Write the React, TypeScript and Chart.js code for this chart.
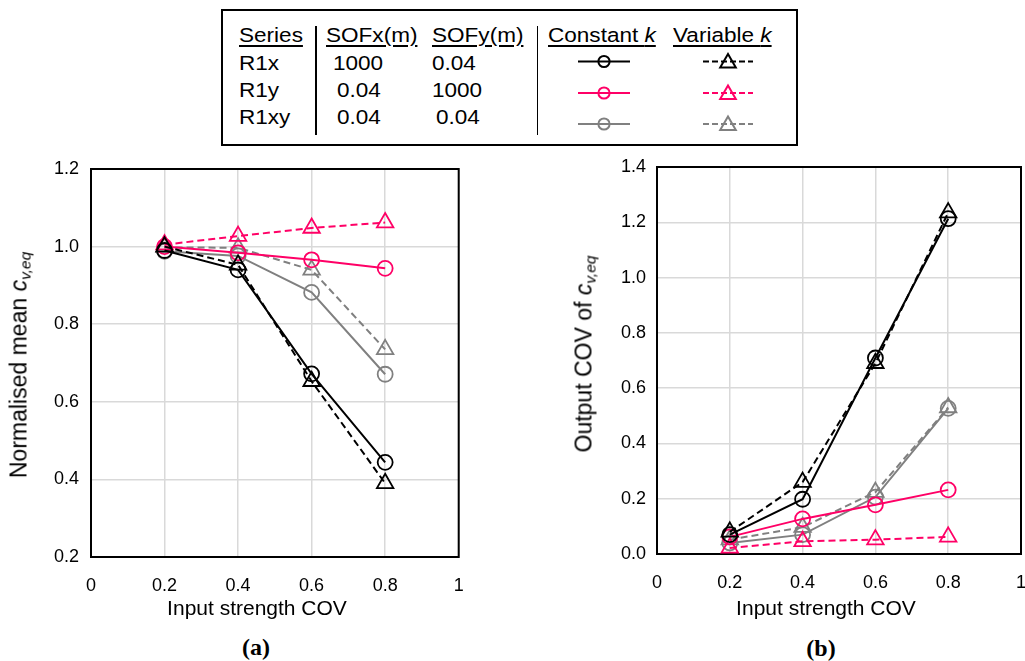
import React, { useEffect, useRef } from "react";
import { Chart, registerables } from "chart.js";

Chart.register(...registerables);

// Input strength COV (x values shared by every series)
const cov = [0.2, 0.4, 0.6, 0.8];

// Series table
const seriesNames = ["R1x", "R1y", "R1xy"];
const sofX = ["1000", "0.04", "0.04"];
const sofY = ["0.04", "1000", "0.04"];
const seriesColors = ["#000000", "#ff0066", "#808080"];

// (a) Normalised mean c_v,eq
const meanR1xConst = [0.99, 0.94, 0.672, 0.444];
const meanR1xVar = [1.0, 0.953, 0.653, 0.39];
const meanR1yConst = [1.0, 0.984, 0.966, 0.944];
const meanR1yVar = [1.005, 1.027, 1.048, 1.062];
const meanR1xyConst = [0.988, 0.976, 0.882, 0.671];
const meanR1xyVar = [0.998, 0.997, 0.94, 0.735];

// (b) Output COV of c_v,eq
const covR1xConst = [0.07, 0.198, 0.709, 1.213];
const covR1xVar = [0.08, 0.26, 0.69, 1.235];
const covR1yConst = [0.062, 0.127, 0.178, 0.232];
const covR1yVar = [0.022, 0.046, 0.052, 0.062];
const covR1xyConst = [0.04, 0.07, 0.206, 0.527];
const covR1xyVar = [0.052, 0.097, 0.224, 0.53];

// Axis tick ranges
const xTicks = [0, 1, 0.2];
const meanTicks = [0.2, 1.2, 0.2];
const covTicks = [0, 1.4, 0.2];

const FONT = 'Arial, "Liberation Sans", sans-serif';
const GRID = "#d9d9d9";

function buildDatasets(constSets: number[][], varSets: number[][]) {
  const out: any[] = [];
  for (let i = 0; i < seriesNames.length; i++) {
    const color = seriesColors[i];
    out.push({
      label: seriesNames[i] + " constant k",
      data: cov.map((x, j) => ({ x, y: constSets[i][j] })),
      borderColor: color,
      borderWidth: 2,
      pointStyle: "circle",
      pointRadius: 7.5,
      pointHoverRadius: 7.5,
      pointBorderWidth: 1.8,
      pointBorderColor: color,
      pointBackgroundColor: "rgba(0,0,0,0)",
      fill: false,
      tension: 0,
    });
    out.push({
      label: seriesNames[i] + " variable k",
      data: cov.map((x, j) => ({ x, y: varSets[i][j] })),
      borderColor: color,
      borderWidth: 2,
      borderDash: [7, 4],
      pointStyle: "triangle",
      pointRadius: 9.5,
      pointHoverRadius: 9.5,
      pointBorderWidth: 1.8,
      pointBorderColor: color,
      pointBackgroundColor: "rgba(0,0,0,0)",
      fill: false,
      tension: 0,
    });
  }
  return out;
}

// Black frame around the plot area, drawn over the grid and under the lines
const framePlugin = {
  id: "plotFrame",
  beforeDatasetsDraw(chart: any) {
    const { left, top, right, bottom } = chart.chartArea;
    const ctx = chart.ctx;
    ctx.save();
    ctx.strokeStyle = "#000";
    ctx.lineWidth = 2;
    ctx.strokeRect(left, top, right - left, bottom - top);
    ctx.restore();
  },
};

function makeConfig(
  datasets: any[],
  yRange: number[],
  yAxisWidth: number,
  xAxisHeight: number,
  padTop: number,
  padRight: number,
  yTickPad: number
) {
  return {
    type: "line",
    data: { datasets },
    plugins: [framePlugin],
    options: {
      animation: false,
      responsive: false,
      maintainAspectRatio: false,
      devicePixelRatio: 1,
      layout: { padding: { top: padTop, right: padRight, left: 0, bottom: 0 } },
      plugins: { legend: { display: false }, tooltip: { enabled: false } },
      events: [],
      scales: {
        x: {
          type: "linear",
          min: xTicks[0],
          max: xTicks[1],
          border: { display: false },
          grid: { color: GRID, lineWidth: 1.5, drawTicks: false },
          ticks: {
            stepSize: xTicks[2],
            padding: 18,
            color: "#000",
            font: { family: FONT, size: 18 },
            maxRotation: 0,
            autoSkip: false,
            callback: (v: number) =>
              Math.abs(v) < 1e-9 ? "0" : Math.abs(v - 1) < 1e-9 ? "1" : Number(v).toFixed(1),
          },
          afterFit: (s: any) => {
            s.height = xAxisHeight;
            s.paddingLeft = 0;
            s.paddingRight = 0;
          },
        },
        y: {
          type: "linear",
          min: yRange[0],
          max: yRange[1],
          border: { display: false },
          grid: { color: GRID, lineWidth: 1.5, drawTicks: false },
          ticks: {
            stepSize: yRange[2],
            padding: yTickPad,
            color: "#000",
            font: { family: FONT, size: 18 },
            autoSkip: false,
            callback: (v: number) => Number(v).toFixed(1),
          },
          afterFit: (s: any) => {
            s.width = yAxisWidth;
            s.paddingTop = 0;
            s.paddingBottom = 0;
          },
        },
      },
    },
  } as any;
}

const LEGEND_SIZE = 20.5;

function LegendText(props: { x: number; baseline: number; underline?: boolean; children: any }) {
  return (
    <div
      style={{
        position: "absolute",
        left: props.x,
        top: props.baseline - LEGEND_SIZE * 0.8465,
        fontSize: LEGEND_SIZE,
        lineHeight: LEGEND_SIZE + "px",
        whiteSpace: "nowrap",
        transform: "scaleX(1.1)",
        transformOrigin: "0 0",
        color: "#000",
        textDecoration: props.underline ? "underline" : "none",
        textDecorationThickness: "1.6px",
        textUnderlineOffset: "3px",
      }}
    >
      {props.children}
    </div>
  );
}

function YTitle(props: { cx: number; cy: number; text: string }) {
  return (
    <div
      style={{
        position: "absolute",
        left: props.cx,
        top: props.cy,
        transform: "translate(-50%, -50%) rotate(-90deg)",
        fontSize: 23,
        lineHeight: "26px",
        whiteSpace: "nowrap",
        color: "#000",
      }}
    >
      {props.text}
      <i>c</i>
      <sub style={{ fontStyle: "italic", fontSize: 15.5, verticalAlign: "-4px" }}>v,eq</sub>
    </div>
  );
}

function CenterText(props: { cx: number; cy: number; style?: any; children: any }) {
  return (
    <div
      style={{
        position: "absolute",
        left: props.cx,
        top: props.cy,
        transform: "translate(-50%, -50%)",
        whiteSpace: "nowrap",
        color: "#000",
        ...props.style,
      }}
    >
      {props.children}
    </div>
  );
}

export default function App() {
  const leftRef = useRef<HTMLCanvasElement>(null);
  const rightRef = useRef<HTMLCanvasElement>(null);

  useEffect(() => {
    const meanChart = new Chart(
      leftRef.current as HTMLCanvasElement,
      makeConfig(
        buildDatasets([meanR1xConst, meanR1yConst, meanR1xyConst], [meanR1xVar, meanR1yVar, meanR1xyVar]),
        meanTicks,
        91,
        63,
        19,
        11,
        12
      )
    );
    const covChart = new Chart(
      rightRef.current as HTMLCanvasElement,
      makeConfig(
        buildDatasets([covR1xConst, covR1yConst, covR1xyConst], [covR1xVar, covR1yVar, covR1xyVar]),
        covTicks,
        97,
        66,
        17,
        12,
        11
      )
    );
    return () => {
      meanChart.destroy();
      covChart.destroy();
    };
  }, []);

  const rowBaselines = [70, 97, 124];
  const sampleY = [61.5, 93, 124];

  return (
    <div
      style={{
        position: "absolute",
        left: 0,
        top: 0,
        width: 1025,
        height: 661,
        background: "#fff",
        fontFamily: FONT,
        overflow: "hidden",
      }}
    >
      <canvas
        ref={leftRef}
        width={470}
        height={470}
        style={{ position: "absolute", left: 0, top: 150, width: 470, height: 470 }}
      />
      <canvas
        ref={rightRef}
        width={473}
        height={470}
        style={{ position: "absolute", left: 560, top: 150, width: 473, height: 470 }}
      />

      {/* axis titles */}
      <YTitle cx={22} cy={365} text="Normalised mean " />
      <YTitle cx={587} cy={354} text="Output COV of " />
      <CenterText cx={257} cy={608} style={{ fontSize: 21 }}>
        Input strength COV
      </CenterText>
      <CenterText cx={826} cy={608} style={{ fontSize: 21 }}>
        Input strength COV
      </CenterText>
      <CenterText
        cx={256}
        cy={647}
        style={{ fontSize: 24, fontWeight: "bold", fontFamily: '"Times New Roman", "Liberation Serif", serif' }}
      >
        (a)
      </CenterText>
      <CenterText
        cx={821}
        cy={648}
        style={{ fontSize: 24, fontWeight: "bold", fontFamily: '"Times New Roman", "Liberation Serif", serif' }}
      >
        (b)
      </CenterText>

      {/* series table */}
      <div
        style={{
          position: "absolute",
          left: 221,
          top: 9,
          width: 577,
          height: 137,
          border: "2px solid #000",
          boxSizing: "border-box",
        }}
      />
      <div style={{ position: "absolute", left: 315, top: 26, width: 1.5, height: 109, background: "#000" }} />
      <div style={{ position: "absolute", left: 536.5, top: 26, width: 1.5, height: 109, background: "#000" }} />

      <LegendText x={239} baseline={42} underline>
        Series
      </LegendText>
      <LegendText x={326} baseline={42} underline>
        SOFx(m)
      </LegendText>
      <LegendText x={432} baseline={42} underline>
        SOFy(m)
      </LegendText>
      <LegendText x={548} baseline={42} underline>
        Constant <i>k</i>
      </LegendText>
      <LegendText x={673} baseline={42} underline>
        Variable <i>k</i>
      </LegendText>

      {seriesNames.map((name, i) => (
        <React.Fragment key={name}>
          <LegendText x={239} baseline={rowBaselines[i]}>
            {name}
          </LegendText>
          <LegendText x={sofX[i] === "1000" ? 333 : 337} baseline={rowBaselines[i]}>
            {sofX[i]}
          </LegendText>
          <LegendText x={sofY[i] === "1000" ? 432 : i === 2 ? 436 : 432} baseline={rowBaselines[i]}>
            {sofY[i]}
          </LegendText>
        </React.Fragment>
      ))}

      <svg
        width={1025}
        height={160}
        style={{ position: "absolute", left: 0, top: 0, pointerEvents: "none" }}
      >
        {seriesColors.map((color, i) => {
          const y = sampleY[i];
          return (
            <g key={color} fill="none" stroke={color} strokeWidth={2}>
              <line x1={578} y1={y} x2={630} y2={y} />
              <circle cx={604} cy={y} r={5.6} />
              <line x1={703} y1={y} x2={753} y2={y} strokeDasharray="6 3" />
              <polygon
                points={`728,${y - 7.5} ${720.2},${y + 6} ${735.8},${y + 6}`}
                strokeLinejoin="miter"
              />
            </g>
          );
        })}
      </svg>
    </div>
  );
}
